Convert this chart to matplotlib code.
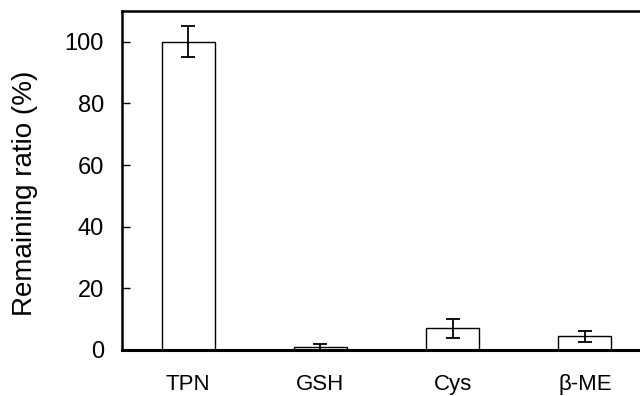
import matplotlib
matplotlib.use("Agg")
import matplotlib.pyplot as plt

categories = ["TPN", "GSH", "Cys", "β-ME"]
values = [100, 1.0, 7.0, 4.5]
errors = [5.0, 0.9, 3.0, 1.8]
yticks = [0, 20, 40, 60, 80, 100]

plt.rcParams['font.family'] = ['Liberation Sans', 'DejaVu Sans']

fig = plt.figure(figsize=(6.4, 3.96), dpi=100)
W, H = 640, 396
left, right, top, bottom = 122, 651, 11, 350
ax = fig.add_axes([left / W, 1 - bottom / H, (right - left) / W, (bottom - top) / H])

x = range(len(categories))
ax.bar(x, values, width=0.4, color='white', edgecolor='black', linewidth=1.0, zorder=2)
ax.errorbar(x, values, yerr=errors, fmt='none', ecolor='black', elinewidth=1.3,
            capsize=5, capthick=1.3, zorder=3)

ax.set_xlim(-0.5, 3.5)
ax.set_ylim(0, 110)
ax.set_yticks(yticks)
ax.set_xticks(list(x))
ax.set_xticklabels(categories)
ax.tick_params(axis='y', direction='in', length=6, width=1, labelsize=17, pad=13)
ax.tick_params(axis='x', length=0, labelsize=16, pad=17)
fig.text(25 / W, 1 - 193 / H, "Remaining ratio (%)", fontsize=20, rotation=90,
         ha='center', va='center')

ax.spines['left'].set_linewidth(1.8)
ax.spines['bottom'].set_linewidth(2.2)
ax.spines['top'].set_linewidth(1.8)
ax.spines['right'].set_visible(False)

fig.savefig("out.png", dpi=100)
